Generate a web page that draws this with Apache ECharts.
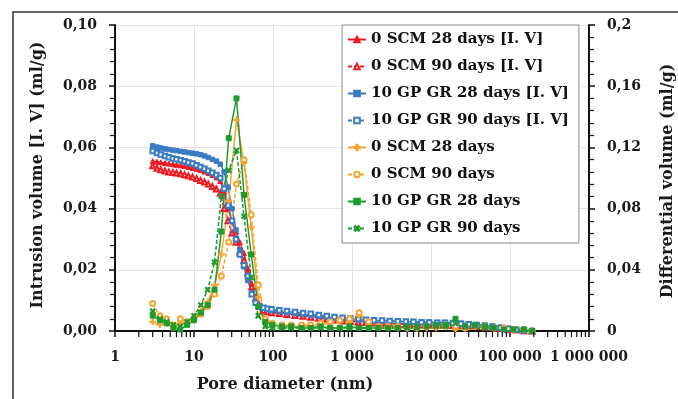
<!DOCTYPE html>
<html>
<head>
<meta charset="utf-8">
<script src="https://cdn.jsdelivr.net/npm/echarts@6/dist/echarts.min.js"></script>
<style>
  html, body { margin: 0; padding: 0; background: #fff; }
  #chart { width: 678px; height: 399px; }
</style>
</head>
<body>
<div id="chart"></div>
<script>
// Pore diameters (nm) of the cumulative intrusion curves
const dIntrusion = [3.0, 3.4, 3.8, 4.3, 4.8, 5.4, 6.0, 6.8, 7.6, 8.5, 9.6, 10.8, 12.1, 13.6, 15.2, 17.1, 19.2, 21.5, 24.1, 27.0,
  30.3, 34.0, 38.1, 42.8, 48.0, 53.8, 60.4, 67.7, 76.0, 85.3, 95.7, 120, 150, 190, 240, 300, 380, 480, 600, 760,
  950, 1200, 1500, 1900, 2400, 3000, 3800, 4800, 6000, 7600, 9500, 12000, 15000, 19000, 24000, 30000, 38000, 48000, 60000, 76000,
  95000, 120000, 150000, 190000];

// Intrusion volume (ml/g), left axis
const ivScm28 = [0.0555, 0.0553, 0.0551, 0.0549, 0.0547, 0.0545, 0.0543, 0.0541, 0.0539, 0.0536, 0.0533, 0.0530, 0.0526, 0.0521, 0.0516, 0.0510, 0.0502, 0.0490, 0.0455, 0.0400,
  0.0360, 0.0325, 0.0290, 0.0255, 0.0205, 0.0155, 0.0110, 0.0085, 0.0072, 0.0066, 0.0063, 0.0060, 0.0057, 0.0054, 0.0051, 0.0048, 0.0045, 0.0042, 0.0039, 0.0036,
  0.0034, 0.0032, 0.0030, 0.0028, 0.0026, 0.0025, 0.0024, 0.0023, 0.0022, 0.0021, 0.0021, 0.0020, 0.0020, 0.0019, 0.0018, 0.0017, 0.0016, 0.0014, 0.0012, 0.0009,
  0.0006, 0.0004, 0.0002, 0];
const ivScm90 = [0.0540, 0.0532, 0.0527, 0.0523, 0.0520, 0.0518, 0.0516, 0.0514, 0.0511, 0.0507, 0.0503, 0.0498, 0.0492, 0.0487, 0.0480, 0.0472, 0.0464, 0.0450, 0.0400, 0.0360,
  0.0320, 0.0290, 0.0260, 0.0230, 0.0190, 0.0145, 0.0105, 0.0080, 0.0068, 0.0063, 0.0060, 0.0057, 0.0054, 0.0051, 0.0048, 0.0045, 0.0042, 0.0039, 0.0036, 0.0033,
  0.0031, 0.0029, 0.0027, 0.0026, 0.0025, 0.0024, 0.0023, 0.0022, 0.0021, 0.0020, 0.0020, 0.0019, 0.0019, 0.0018, 0.0017, 0.0016, 0.0015, 0.0013, 0.0011, 0.0008,
  0.0005, 0.0003, 0.0001, 0];
const ivGp28 = [0.0605, 0.0601, 0.0598, 0.0595, 0.0593, 0.0591, 0.0589, 0.0587, 0.0585, 0.0583, 0.0581, 0.0579, 0.0576, 0.0572, 0.0567, 0.0561, 0.0555, 0.0545, 0.0520, 0.0470,
  0.0400, 0.0330, 0.0265, 0.0210, 0.0165, 0.0125, 0.0098, 0.0082, 0.0074, 0.0070, 0.0067, 0.0063, 0.0060, 0.0057, 0.0054, 0.0051, 0.0048, 0.0045, 0.0043, 0.0041,
  0.0039, 0.0037, 0.0035, 0.0034, 0.0033, 0.0032, 0.0031, 0.0030, 0.0030, 0.0029, 0.0029, 0.0028, 0.0028, 0.0027, 0.0025, 0.0023, 0.0021, 0.0019, 0.0016, 0.0012,
  0.0008, 0.0005, 0.0002, 0];
const ivGp90 = [0.0588, 0.0582, 0.0577, 0.0572, 0.0568, 0.0564, 0.0561, 0.0558, 0.0555, 0.0551, 0.0547, 0.0542, 0.0536, 0.0530, 0.0524, 0.0517, 0.0510, 0.0500, 0.0465, 0.0410,
  0.0360, 0.0300, 0.0250, 0.0215, 0.0180, 0.0120, 0.0092, 0.0080, 0.0076, 0.0073, 0.0071, 0.0068, 0.0065, 0.0062, 0.0059, 0.0056, 0.0052, 0.0049, 0.0046, 0.0043,
  0.0041, 0.0039, 0.0037, 0.0035, 0.0034, 0.0033, 0.0032, 0.0031, 0.0030, 0.0029, 0.0028, 0.0027, 0.0027, 0.0026, 0.0024, 0.0022, 0.0020, 0.0017, 0.0014, 0.0011,
  0.0007, 0.0004, 0.0002, 0];

// Pore diameters (nm) of the differential curves
const dDiff = [3.0, 3.7, 4.5, 5.5, 6.7, 8.2, 10.0, 12.2, 14.9, 18.2, 22.2, 27.5, 34.5, 43.0, 53.0, 65.0, 80.0, 98, 130, 170,
  230, 300, 400, 530, 700, 930, 1230, 1630, 2160, 2860, 3800, 5000, 6600, 8800, 11600, 15400, 20400, 27000, 36000, 48000,
  63000, 84000, 110000, 150000, 190000];

// Differential volume (ml/g), right axis
const dvScm28 = [0.006, 0.004, 0.005, 0.002, 0.005, 0.006, 0.009, 0.013, 0.019, 0.030, 0.050, 0.085, 0.138, 0.110, 0.068, 0.022, 0.006, 0.004, 0.003, 0.003,
  0.003, 0.003, 0.004, 0.005, 0.006, 0.006, 0.010, 0.004, 0.003, 0.002, 0.002, 0.002, 0.002, 0.002, 0.002, 0.003, 0.001, 0.002, 0.003, 0.003,
  0.002, 0.002, 0.001, 0.001, 0];
const dvScm90 = [0.018, 0.010, 0.008, 0.004, 0.008, 0.006, 0.008, 0.011, 0.016, 0.024, 0.036, 0.058, 0.096, 0.112, 0.076, 0.030, 0.008, 0.005, 0.004, 0.004,
  0.004, 0.004, 0.005, 0.006, 0.007, 0.008, 0.012, 0.006, 0.003, 0.003, 0.003, 0.002, 0.002, 0.003, 0.003, 0.004, 0.003, 0.002, 0.003, 0.003,
  0.002, 0.002, 0.001, 0.001, 0];
const dvGp28 = [0.010, 0.007, 0.005, 0.002, 0.001, 0.004, 0.007, 0.012, 0.017, 0.027, 0.065, 0.126, 0.152, 0.089, 0.050, 0.016, 0.006, 0.004, 0.003, 0.003,
  0.002, 0.002, 0.003, 0.002, 0.002, 0.003, 0.002, 0.002, 0.002, 0.002, 0.002, 0.003, 0.003, 0.003, 0.004, 0.004, 0.008, 0.003, 0.004, 0.003,
  0.002, 0.001, 0.001, 0.001, 0];
const dvGp90 = [0.013, 0.008, 0.006, 0.004, 0.003, 0.006, 0.010, 0.017, 0.027, 0.045, 0.088, 0.105, 0.118, 0.075, 0.035, 0.010, 0.003, 0.002, 0.002, 0.002,
  0.002, 0.002, 0.002, 0.002, 0.002, 0.002, 0.002, 0.002, 0.002, 0.002, 0.002, 0.002, 0.002, 0.003, 0.003, 0.003, 0.005, 0.003, 0.003, 0.002,
  0.002, 0.001, 0.001, 0.001, 0];

const seriesNames = [
  '0 SCM 28 days [I. V]', '0 SCM 90 days [I. V]', '10 GP GR 28 days [I. V]', '10 GP GR 90 days [I. V]',
  '0 SCM 28 days', '0 SCM 90 days', '10 GP GR 28 days', '10 GP GR 90 days'
];

const RED = '#ee1c25', BLUE = '#3a7cc4', ORANGE = '#f7a530', GREEN = '#1f9a2e';
const FONT = '"DejaVu Serif", "Liberation Serif", serif';
const PLUS = 'path://M4,0H6V4H10V6H6V10H4V6H0V4H4Z';

const pair = (xs, ys) => xs.map((x, i) => [x, ys[i]]);
const comma = (s) => s.replace('.', ',');
const spaced = (v) => String(Math.round(v)).replace(/\B(?=(\d{3})+(?!\d))/g, ' ');

// minor tick positions 2..9 inside every decade of the log axis
const minorTicks = [];
for (let p = 1; p < 1000000; p *= 10) {
  for (let k = 2; k <= 9; k++) minorTicks.push(k * p);
}

function line(name, xs, ys, color, symbol, dashed, yAxisIndex, size) {
  return {
    name, type: 'line', xAxisIndex: 0, yAxisIndex,
    data: pair(xs, ys),
    symbol, symbolSize: size || 5,
    showSymbol: true,
    itemStyle: { color, borderColor: color, borderWidth: 1 },
    lineStyle: { color, width: 1.5, type: dashed ? [4, 2] : 'solid' },
    emphasis: { disabled: true },
    z: 2
  };
}

const chart = echarts.init(document.getElementById('chart'), null, { renderer: 'canvas' });

const option = {
  animation: false,
  backgroundColor: '#ffffff',
  grid: { left: 115, right: 89, top: 25, bottom: 68, containLabel: false },
  xAxis: {
    type: 'log', logBase: 10, min: 1, max: 1000000,
    axisLine: { show: true, lineStyle: { color: '#111', width: 2 } },
    axisTick: { show: true, inside: false, length: 6, lineStyle: { color: '#111', width: 1.5 } },
    axisLabel: { margin: 19, formatter: spaced, color: '#1a1a1a', fontFamily: FONT, fontWeight: 'bold', fontSize: 14 },
    splitLine: { show: true, lineStyle: { color: '#e4e4e4', width: 1 } },
    minorTick: { show: false }
  },
  yAxis: [{
    type: 'value', min: 0, max: 0.1, interval: 0.02, position: 'left',
    axisLine: { show: true, lineStyle: { color: '#111', width: 2 } },
    axisTick: { show: true, length: 6, lineStyle: { color: '#111', width: 1.5 } },
    minorTick: { show: true, splitNumber: 5, length: 5, lineStyle: { color: '#111', width: 1.2 } },
    axisLabel: { margin: 18, formatter: (v) => comma(v.toFixed(2)), color: '#1a1a1a', fontFamily: FONT, fontWeight: 'bold', fontSize: 14 },
    splitLine: { show: true, lineStyle: { color: '#e4e4e4', width: 1 } }
  }, {
    type: 'value', min: 0, max: 0.2, interval: 0.04, position: 'right',
    axisLine: { show: true, lineStyle: { color: '#111', width: 2 } },
    axisTick: { show: true, length: 6, lineStyle: { color: '#111', width: 1.5 } },
    minorTick: { show: true, splitNumber: 5, length: 5, lineStyle: { color: '#111', width: 1.2 } },
    axisLabel: { margin: 18, formatter: (v) => comma(String(Number(v.toFixed(2)))), color: '#1a1a1a', fontFamily: FONT, fontWeight: 'bold', fontSize: 14 },
    splitLine: { show: false }
  }],
  legend: {
    orient: 'vertical', left: 342, top: 25,
    data: seriesNames,
    backgroundColor: '#ffffff', borderColor: '#8a8a8a', borderWidth: 1,
    padding: [6, 10, 6, 5], itemGap: 10, itemWidth: 18, itemHeight: 7,
    textStyle: { fontFamily: FONT, fontWeight: 'bold', fontSize: 15, color: '#111', lineHeight: 17 }
  },
  graphic: [
    { type: 'rect', silent: true, z: 0, shape: { x: 13, y: 12, width: 700, height: 420 },
      style: { fill: 'none', stroke: '#333', lineWidth: 1.5 } },
    { type: 'text', silent: true, x: 38, y: 175, rotation: Math.PI / 2,
      style: { text: 'Intrusion volume [I. V] (ml/g)', font: 'bold 16px ' + FONT, fill: '#1a1a1a', textAlign: 'center', textVerticalAlign: 'middle' } },
    { type: 'text', silent: true, x: 668, y: 181, rotation: Math.PI / 2,
      style: { text: 'Differential volume (ml/g)', font: 'bold 16px ' + FONT, fill: '#1a1a1a', textAlign: 'center', textVerticalAlign: 'middle' } },
    { type: 'text', silent: true, x: 285, y: 385,
      style: { text: 'Pore diameter (nm)', font: 'bold 16px ' + FONT, fill: '#1a1a1a', textAlign: 'center', textVerticalAlign: 'middle' } }
  ],
  series: [
    line(seriesNames[0], dIntrusion, ivScm28, RED, 'triangle', false, 0),
    line(seriesNames[1], dIntrusion, ivScm90, RED, 'emptyTriangle', true, 0),
    line(seriesNames[2], dIntrusion, ivGp28, BLUE, 'rect', false, 0, 4.5),
    line(seriesNames[3], dIntrusion, ivGp90, BLUE, 'emptyRect', true, 0, 4.5),
    line(seriesNames[4], dDiff, dvScm28, ORANGE, PLUS, false, 1, 6),
    line(seriesNames[5], dDiff, dvScm90, ORANGE, 'emptyCircle', true, 1),
    line(seriesNames[6], dDiff, dvGp28, GREEN, 'rect', false, 1, 5),
    line(seriesNames[7], dDiff, dvGp90, GREEN, PLUS, true, 1, 6),
    {
      // short log-axis minor ticks hanging below the x axis
      name: 'minor ticks', type: 'custom', xAxisIndex: 0, yAxisIndex: 0,
      data: minorTicks.map((v) => [v, 0]),
      clip: false, silent: true, z: 5,
      renderItem: (params, api) => {
        const p = api.coord([api.value(0), 0]);
        return { type: 'line', shape: { x1: p[0], y1: p[1] + 1, x2: p[0], y2: p[1] + 6 },
          style: { stroke: '#111', lineWidth: 1.2 } };
      }
    }
  ]
};
// the dashed green series uses a rotated plus as an "x" marker
option.series[7].symbolRotate = 45;

chart.setOption(option);
</script>
</body>
</html>
